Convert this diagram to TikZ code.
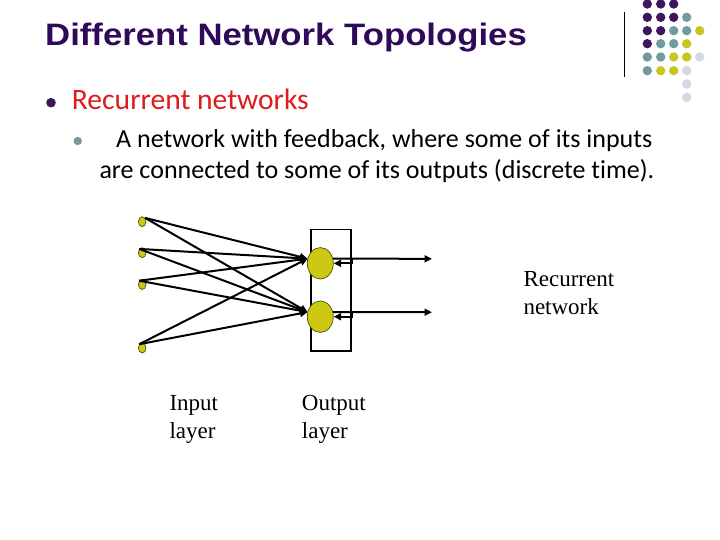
\documentclass[tikz,border=0pt]{standalone}
\usepackage{fontspec}
\setmainfont{Liberation Serif}
\newfontfamily\headfont{Liberation Sans}
\newfontfamily\bodyfont[Ligatures=NoCommon]{Carlito}
\usetikzlibrary{shapes.geometric, arrows.meta}
\definecolor{titlepurple}{RGB}{46,10,88}
\definecolor{dotpurple}{RGB}{62,22,92}
\definecolor{dotteal}{RGB}{112,156,158}
\definecolor{dotyellow}{RGB}{201,196,32}
\definecolor{dotlilac}{RGB}{214,214,232}
\definecolor{unityellow}{RGB}{204,200,20}
\definecolor{headred}{RGB}{222,28,28}

\begin{document}
\begin{tikzpicture}[x=1pt,y=-1pt,
  unit/.style={ellipse, draw=black!60!unityellow, line width=0.7pt, fill=unityellow, inner sep=0pt, minimum width=26pt, minimum height=31.5pt},
  inunit/.style={ellipse, draw=black!60!unityellow, line width=0.7pt, fill=unityellow, inner sep=0pt, minimum width=7.6pt, minimum height=10pt},
  link/.style={line width=2pt, -{Triangle[length=7.5pt,width=7pt]}},
  label/.style={anchor=base west, inner sep=0pt, align=left, font=\fontsize{23}{28.5}\selectfont}]
\useasboundingbox (0,0) rectangle (720,540);
\fill[dotpurple] (647.3,4.0) circle (4.7);
\fill[dotpurple] (660.7,4.0) circle (4.7);
\fill[dotpurple] (673.7,4.0) circle (4.7);
\fill[dotpurple] (647.3,17.3) circle (4.7);
\fill[dotpurple] (660.7,17.3) circle (4.7);
\fill[dotpurple] (673.7,17.3) circle (4.7);
\fill[dotteal] (686.7,17.3) circle (4.7);
\fill[dotpurple] (647.3,30.7) circle (4.7);
\fill[dotpurple] (660.7,30.7) circle (4.7);
\fill[dotteal] (673.7,30.7) circle (4.7);
\fill[dotteal] (686.7,30.7) circle (4.7);
\fill[dotyellow] (699.7,30.7) circle (4.7);
\fill[dotpurple] (647.3,43.7) circle (4.7);
\fill[dotteal] (660.7,43.7) circle (4.7);
\fill[dotteal] (673.7,43.7) circle (4.7);
\fill[dotyellow] (686.7,43.7) circle (4.7);
\fill[dotteal] (647.3,57.0) circle (4.7);
\fill[dotteal] (660.7,57.0) circle (4.7);
\fill[dotyellow] (673.7,57.0) circle (4.7);
\fill[dotyellow] (686.7,57.0) circle (4.7);
\fill[dotlilac] (699.7,57.0) circle (4.7);
\fill[dotteal] (647.3,70.7) circle (4.7);
\fill[dotyellow] (660.7,70.7) circle (4.7);
\fill[dotyellow] (673.7,70.7) circle (4.7);
\fill[dotlilac] (686.7,70.7) circle (4.7);
\fill[dotlilac] (686.7,84.0) circle (4.7);
\fill[dotlilac] (686.7,97.3) circle (4.7);
\draw[line width=1pt] (624.3,12) -- (624.3,77);
\node[anchor=base west, inner sep=0pt, text=titlepurple, font=\headfont\bfseries\fontsize{31}{37}\selectfont] (title) at (45,46) {\scalebox{1.12}[1]{Different Network Topologies}};
\fill[dotpurple] (51,102.7) circle (4.8);
\node[anchor=base west, inner sep=0pt, text=headred, font=\bodyfont\fontsize{29.6}{35}\selectfont] (topic) at (71.7,109.3) {Recurrent networks};
\fill[dotteal] (77.7,141) circle (4.2);
\node[anchor=base west, inner sep=0pt, font=\bodyfont\fontsize{26}{30.6}\selectfont] (desc1) at (116,147.7) {A network with feedback, where some of its inputs};
\node[anchor=base west, inner sep=0pt, font=\bodyfont\fontsize{26}{30.6}\selectfont] (desc2) at (99.3,178.3) {are connected to some of its outputs (discrete time).};
\node[draw, line width=1.8pt, inner sep=0pt, minimum width=40pt, minimum height=121.5pt] (box) at (331,290.2) {};
\node[unit] (out1) at (320.3,263.3) {};
\node[unit] (out2) at (320.3,316.7) {};
\node[inunit] (in1) at (142.2,221.7) {};
\node[inunit] (in2) at (142.2,252.7) {};
\node[inunit] (in3) at (142.2,284.5) {};
\node[inunit] (in4) at (142.2,348.0) {};
\draw[link] (in1.north east) -- (out1.160);
\draw[link] (in1.north east) -- (out2.160);
\draw[link] (in2.north west) -- (out1.160);
\draw[link] (in2.north west) -- (out2.160);
\draw[link] (in3.north west) -- (out1.160);
\draw[link] (in3.north west) -- (out2.160);
\draw[link] (in4.north west) -- (out1.160);
\draw[link] (in4.north west) -- (out2.160);
\coordinate (y1) at (432,258.8);
\coordinate (y2) at (432,312.2);
\draw[link] (out1.20) -- (y1);
\draw[link] (out2.20) -- (y2);
\draw[link] (y1 -| box.east) |- (out1.east);
\draw[link] (y2 -| box.east) |- (out2.east);
\node[label] (recur) at (523.3,314.5) {Recurrent\\network};
\node[label] (inlayer) at (169.3,438.5) {Input\\layer};
\node[label] (outlayer) at (301.7,438.5) {Output\\layer};
\end{tikzpicture}
\end{document}
